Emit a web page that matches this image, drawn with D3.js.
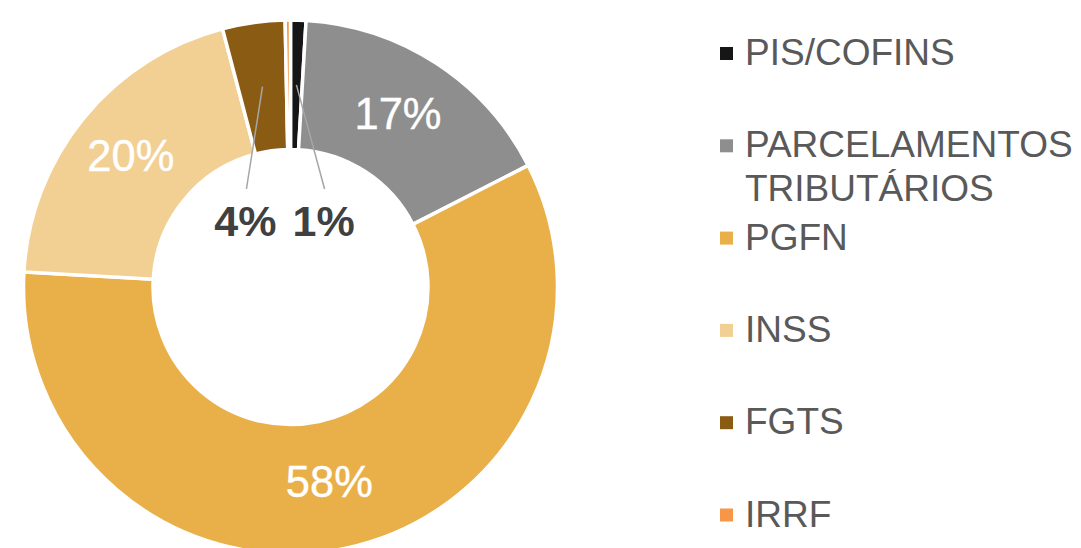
<!DOCTYPE html>
<html>
<head>
<meta charset="utf-8">
<script src="https://cdn.jsdelivr.net/npm/d3@7"></script>
<style>
  body { margin: 0; background: #fff; }
  text { font-family: "Liberation Sans", Arial, sans-serif; }
</style>
</head>
<body>
<div id="chart"></div>
<script>
var categories = ["PIS/COFINS", "PARCELAMENTOS TRIBUTÁRIOS", "PGFN", "INSS", "FGTS", "IRRF"];
var values = [0.93, 16.54, 58.43, 20.0, 3.78, 0.32];
var colors = ["#161616", "#8e8e8e", "#e9b04a", "#f2cf92", "#8a5b12", "#f79646"];

var width = 1081, height = 548;
var cx = 290.5, cy = 287;
var outerR = 267, innerR = 137.5;

var svg = d3.select("#chart").append("svg")
  .attr("width", width)
  .attr("height", height);

var pie = d3.pie().sort(null).value(function(d) { return d; });
var arc = d3.arc().innerRadius(innerR).outerRadius(outerR);
var total = d3.sum(values);
var arcs = pie(values);

var g = svg.append("g").attr("transform", "translate(" + cx + "," + cy + ")");

g.selectAll("path.slice")
  .data(arcs)
  .enter().append("path")
  .attr("class", "slice")
  .attr("d", arc)
  .attr("fill", function(d, i) { return colors[i]; })
  .attr("stroke", "#fff")
  .attr("stroke-width", 3.5)
  .attr("stroke-linejoin", "miter");

// data labels
arcs.forEach(function(d, i) {
  var pct = Math.round(d.data / total * 100);
  if (pct === 0) return;
  var c = arc.centroid(d);
  if (pct >= 10) {
    g.append("text")
      .attr("x", c[0] - 3)
      .attr("y", c[1])
      .attr("dy", "0.27em")
      .attr("text-anchor", "middle")
      .attr("font-size", "43.5px")
      .attr("fill", "#fff")
      .attr("stroke", "#fff")
      .attr("stroke-width", 0.4)
      .text(pct + "%");
  } else {
    // small slices: label pulled into the hole with a leader line
    var left = c[0] < 0;
    var t = g.append("text")
      .attr("x", left ? -14 : 2)
      .attr("y", -51)
      .attr("text-anchor", left ? "end" : "start")
      .attr("font-size", "43px")
      .attr("font-weight", "bold")
      .attr("fill", "#404040")
      .text(pct + "%");
    var bb = t.node().getBBox();
    g.append("line")
      .attr("x1", c[0])
      .attr("y1", c[1])
      .attr("x2", bb.x + bb.width / 2 + 1)
      .attr("y2", -98)
      .attr("stroke", "#a6a6a6")
      .attr("stroke-width", 1.5);
  }
});

// legend
var legend = svg.append("g").attr("transform", "translate(720,0)");
var step = 92.3;

categories.forEach(function(name, i) {
  var base = 65 + i * step;
  legend.append("rect")
    .attr("x", 0)
    .attr("y", base - 18)
    .attr("width", 13)
    .attr("height", 13)
    .attr("fill", colors[i]);
  var t = legend.append("text")
    .attr("x", 25)
    .attr("y", base)
    .attr("font-size", "37px")
    .attr("fill", "#595959")
    .text(name);
  // wrap long names onto a second line
  if (t.node().getComputedTextLength() > 340) {
    var words = name.split(" ");
    t.text(null);
    words.forEach(function(w, k) {
      t.append("tspan")
        .attr("x", 25)
        .attr("dy", k === 0 ? 0 : 43.3)
        .text(w);
    });
  }
});
</script>
</body>
</html>
